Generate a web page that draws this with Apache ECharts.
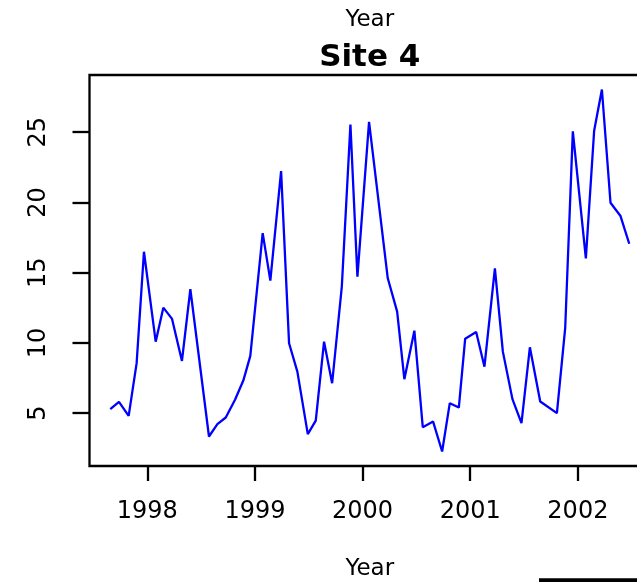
<!DOCTYPE html>
<html>
<head>
<meta charset="utf-8">
<script src="https://cdn.jsdelivr.net/npm/echarts@6/dist/echarts.min.js"></script>
<style>
  html, body { margin: 0; padding: 0; background: #fff; }
  #chart { width: 637px; height: 582px; }
</style>
</head>
<body>
<div id="chart"></div>
<script>
// Sampling times (decimal years) for Site 4
const sampleTimes = [
  1997.656, 1997.737, 1997.827, 1997.901, 1997.969, 1998.078, 1998.149, 1998.230,
  1998.322, 1998.400, 1998.573, 1998.651, 1998.729, 1998.815, 1998.892, 1998.957,
  1999.072, 1999.143, 1999.243, 1999.317, 1999.394, 1999.491, 1999.565, 1999.642,
  1999.717, 1999.807, 1999.887, 1999.952, 2000.060, 2000.234, 2000.321, 2000.388,
  2000.481, 2000.559, 2000.655, 2000.739, 2000.810, 2000.894, 2000.953, 2001.055,
  2001.132, 2001.229, 2001.303, 2001.392, 2001.476, 2001.554, 2001.650, 2001.805,
  2001.882, 2001.953, 2002.074, 2002.151, 2002.223, 2002.303, 2002.396, 2002.477
];

// Measured values at each sampling time
const siteValues = [
  5.28, 5.80, 4.81, 8.56, 16.49, 10.09, 12.51, 11.71,
  8.72, 13.82, 3.34, 4.22, 4.69, 5.95, 7.32, 9.08,
  17.82, 14.43, 22.23, 9.98, 7.96, 3.51, 4.47, 10.09,
  7.13, 14.00, 25.55, 14.72, 25.74, 14.60, 12.23, 7.42,
  10.87, 4.00, 4.40, 2.27, 5.71, 5.40, 10.30, 10.78,
  8.31, 15.31, 9.38, 6.00, 4.29, 9.69, 5.83, 5.00,
  11.05, 25.06, 16.02, 25.10, 28.04, 19.98, 19.03, 17.06
];

const yearTicks = [1998, 1999, 2000, 2001, 2002];
const valueTicks = [5, 10, 15, 20, 25];

const plotTitle = 'Site 4';
const axisName = 'Year';

// Axis ranges padded by 4% on each side of the data range
function paddedRange(arr) {
  const lo = Math.min.apply(null, arr), hi = Math.max.apply(null, arr);
  const pad = (hi - lo) * 0.04;
  return [lo - pad, hi + pad];
}
const xRange = paddedRange(sampleTimes);
const yRange = paddedRange(siteValues);

const seriesData = sampleTimes.map((t, i) => [t, siteValues[i]]);

// Plot region; its right side runs past the canvas edge
const grid = { left: 89.5, top: 75, width: 560.5, height: 391 };
const centerX = grid.left + grid.width / 2;
const FONT = '"DejaVu Sans", sans-serif';

const chart = echarts.init(document.getElementById('chart'), null, { renderer: 'canvas' });

chart.setOption({
  animation: false,
  backgroundColor: '#ffffff',
  grid: Object.assign({
    show: true, borderColor: '#000', borderWidth: 2.3, backgroundColor: 'transparent',
    containLabel: false, outerBoundsMode: 'none'
  }, grid),
  xAxis: {
    type: 'value',
    min: xRange[0],
    max: xRange[1],
    axisLine: { show: false },
    splitLine: { show: false },
    axisTick: {
      show: true, inside: false, length: 15,
      customValues: yearTicks,
      lineStyle: { color: '#000', width: 2.3 }
    },
    axisLabel: {
      show: true, customValues: yearTicks, margin: 34,
      color: '#000', fontSize: 24, fontFamily: FONT,
      formatter: v => String(Math.round(v))
    }
  },
  yAxis: {
    type: 'value',
    min: yRange[0],
    max: yRange[1],
    axisLine: { show: false },
    splitLine: { show: false },
    axisTick: {
      show: true, inside: false, length: 17,
      customValues: valueTicks,
      lineStyle: { color: '#000', width: 2.3 }
    },
    axisLabel: {
      show: true, customValues: valueTicks, margin: 39, rotate: 90,
      color: '#000', fontSize: 24, fontFamily: FONT,
      formatter: v => String(Math.round(v))
    }
  },
  series: [{
    type: 'line',
    data: seriesData,
    showSymbol: false,
    symbol: 'none',
    clip: true,
    lineStyle: { color: '#0000ff', width: 2.3 },
    itemStyle: { color: '#0000ff' }
  }],
  graphic: [
    {
      type: 'text', x: centerX, y: 20,
      style: { text: axisName, fill: '#000', font: '23px ' + FONT, align: 'center', verticalAlign: 'middle' }
    },
    {
      type: 'text', x: centerX, y: 58,
      style: { text: plotTitle, fill: '#000', font: 'bold 31px ' + FONT, align: 'center', verticalAlign: 'middle' }
    },
    {
      type: 'text', x: centerX, y: 569,
      style: { text: axisName, fill: '#000', font: '23px ' + FONT, align: 'center', verticalAlign: 'middle' }
    },
    {
      type: 'rect',
      shape: { x: 539, y: 578.3, width: 100, height: 4 },
      style: { fill: '#000' }
    }
  ]
});
</script>
</body>
</html>
